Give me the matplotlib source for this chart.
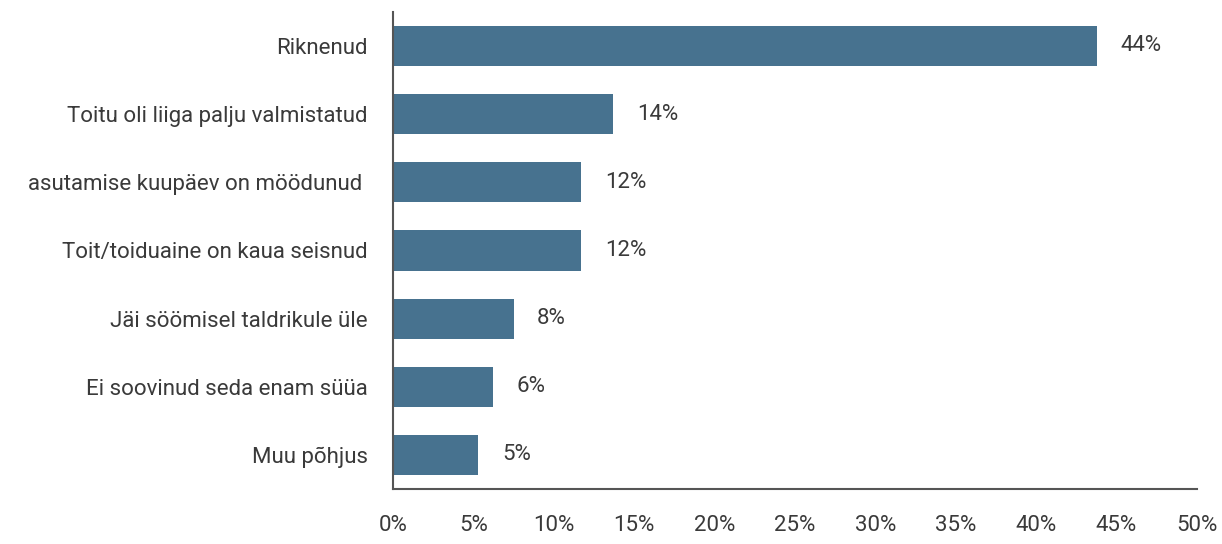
import matplotlib
matplotlib.use("Agg")
from matplotlib import pyplot as plt
from matplotlib.ticker import FuncFormatter

categories = ["Riknenud", "Toitu oli liiga palju valmistatud", "asutamise kuupäev on möödunud ",
              "Toit/toiduaine on kaua seisnud", "Jäi söömisel taldrikule üle",
              "Ei soovinud seda enam süüa", "Muu põhjus"]
values = [43.8, 13.7, 11.7, 11.7, 7.5, 6.2, 5.3]
labels = ["44%", "14%", "12%", "12%", "8%", "6%", "5%"]
xticks = [0, 5, 10, 15, 20, 25, 30, 35, 40, 45, 50]

plt.rcParams["font.family"] = ["Roboto", "DejaVu Sans"]
text_color = "#3a3a3a"

fig = plt.figure(figsize=(12.22, 5.44), dpi=100)
ax = fig.add_axes([0.3216, 0.1011, 0.6579, 0.877])

pos = range(len(categories))
ax.barh(pos, values, height=0.59, color="#47728f")

for p, v, lab in zip(pos, values, labels):
    ax.annotate(lab, (v, p), xytext=(17, 0), textcoords="offset points",
                va="center", ha="left", fontsize=16, color=text_color)

ax.set_ylim(6.5, -0.5)
ax.set_xlim(0, 50)
ax.set_yticks(list(pos))
ax.set_yticklabels(categories)
ax.set_xticks(xticks)
ax.xaxis.set_major_formatter(FuncFormatter(lambda x, _: f"{x:.0f}%"))
ax.tick_params(axis="both", length=0, labelsize=16, colors=text_color)
ax.tick_params(axis="y", pad=18)
ax.tick_params(axis="x", pad=19)

for s in ["top", "right"]:
    ax.spines[s].set_visible(False)
for s in ["left", "bottom"]:
    ax.spines[s].set_color("#555555")
    ax.spines[s].set_linewidth(1.5)

fig.savefig("out.png", dpi=100)
